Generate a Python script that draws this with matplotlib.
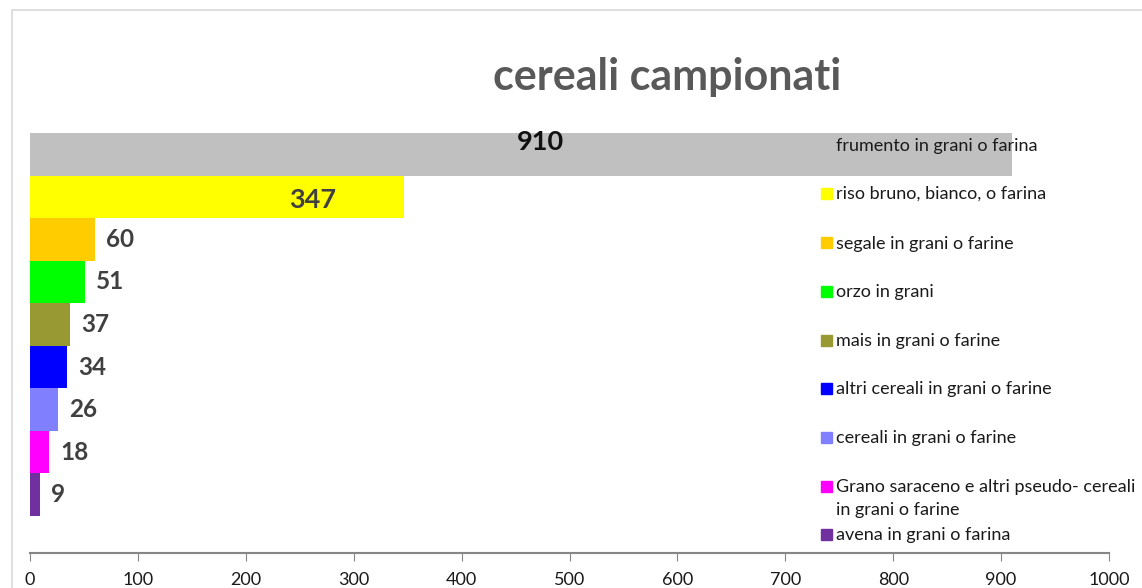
import matplotlib
matplotlib.use("Agg")
import matplotlib.pyplot as plt
from matplotlib.patches import Rectangle

# Données du graphique
categorie = ["frumento in grani o farina",
             "riso bruno, bianco, o farina",
             "segale in grani o farine",
             "orzo in grani",
             "mais in grani o farine",
             "altri cereali in grani o farine",
             "cereali in grani o farine",
             "Grano saraceno e altri pseudo- cereali\nin grani o farine",
             "avena in grani o farina"]
valori = [910, 347, 60, 51, 37, 34, 26, 18, 9]
colori = ["#C0C0C0", "#FFFF00", "#FFCC00", "#00FF00", "#999933",
          "#0000FF", "#8080FF", "#FF00FF", "#7030A0"]
tick_x = [0, 100, 200, 300, 400, 500, 600, 700, 800, 900, 1000]

W, H = 1142, 588
plt.rcParams['font.family'] = ['Lato', 'DejaVu Sans']

fig = plt.figure(figsize=(W / 100.0, H / 100.0), dpi=100)

# Cadre du graphique
fig.patches.append(Rectangle((12.0 / W, -0.1), 1.2, 1 - 10.0 / H + 0.1,
                             transform=fig.transFigure, fill=False,
                             edgecolor="#D9D9D9", linewidth=1.2))

ax = fig.add_axes([30.0 / W, 1 - 553.0 / H, 1079.0 / W, 420.0 / H])

pos = list(range(len(valori)))
ax.barh(pos, valori, height=1.0, color=colori)
ax.set_ylim(9.37, -0.5)
ax.set_xlim(0, 1000)
ax.set_xticks(tick_x)
ax.tick_params(axis='x', direction='out', length=6, color="#868686",
               labelsize=13, labelcolor="#1A1A1A", pad=8)
ax.set_yticks([])
for s in ["top", "right", "left"]:
    ax.spines[s].set_visible(False)
ax.spines["bottom"].set_color("#868686")
ax.spines["bottom"].set_linewidth(1.5)

# Etiquettes des valeurs
for i, v in enumerate(valori):
    if v > 300:
        # étiquettes placées à l'intérieur des grandes barres
        frac = 0.52 if v > 900 else 0.755
        ax.text(v * frac, i - 0.28 if v > 900 else i + 0.07, str(v),
                ha='center', va='center', fontsize=19.5, fontweight='bold',
                color="#404040" if v < 900 else "#111111")
    else:
        ax.annotate(str(v), (v, i), xytext=(8, 0), textcoords='offset points',
                    ha='left', va='center', fontsize=17.5, fontweight='bold',
                    color="#404040")

# Titre
fig.text(667.0 / W, 1 - 77.0 / H, "cereali campionati", ha='center',
         va='center', fontsize=31, fontweight='bold', color="#595959")

# Légende dessinée à la main (les barres passent dessus)
leg_y = [145, 193, 243, 291, 340, 388, 437, 486, 534]
for i, (nom, c) in enumerate(zip(categorie, colori)):
    y = 1 - leg_y[i] / float(H)
    fig.patches.append(Rectangle((821.0 / W, y - 5.5 / H), 11.0 / W, 11.0 / H,
                                 transform=fig.transFigure, color=c,
                                 zorder=0 if i == 0 else 3))
    fig.text(836.0 / W, 1 - (leg_y[i] - 7) / float(H), nom, ha='left',
             va='top', fontsize=13, color="#1A1A1A", linespacing=1.5,
             zorder=5)

fig.savefig("out.png", dpi=100)
